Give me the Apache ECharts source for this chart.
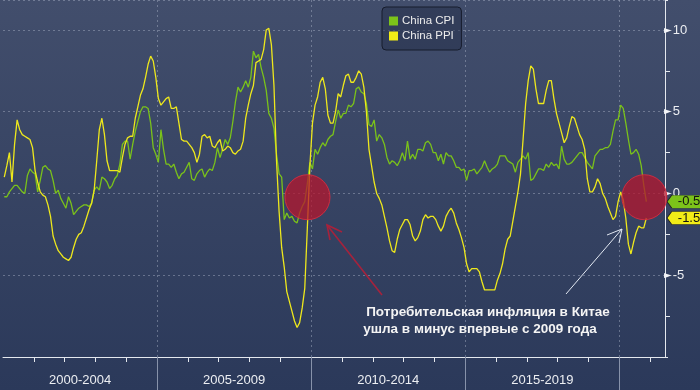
<!DOCTYPE html>
<html><head><meta charset="utf-8">
<script src="https://cdn.jsdelivr.net/npm/echarts@6/dist/echarts.min.js"></script>
<style>html,body{margin:0;padding:0;background:#2f3c5c}#c{width:700px;height:390px}</style>
</head><body><div id="c"></div>
<script>
// ---- data (monthly, Jan 2000 .. Nov 2020, % y/y) ----
const startYear = 2000;
const cpiValues = [
-0.2,-0.2,0.1,0.3,0.5,0.5,0.3,0.1,0.0,1.1,1.5,1.3,
1.2,0.1,0.8,1.6,1.7,1.5,1.4,0.8,0.0,0.2,-0.3,-0.6,
-0.9,-0.2,-0.6,-1.3,-1.1,-0.9,-0.8,-0.7,-0.7,-0.8,-0.6,0.2,
0.4,0.2,1.0,0.9,0.7,0.3,0.5,0.9,1.1,1.8,3.0,3.2,
3.2,2.1,3.0,3.8,4.4,5.0,5.3,5.3,5.2,4.3,2.8,2.4,
1.9,3.9,2.7,1.8,1.8,1.6,1.8,1.3,0.9,1.2,1.3,1.6,
1.9,0.9,0.8,1.2,1.4,1.5,1.0,1.3,1.5,1.4,1.9,2.8,
2.2,2.7,3.3,3.0,3.4,4.4,5.6,6.5,6.2,6.5,6.9,6.5,
7.1,8.7,8.3,8.5,7.7,7.1,6.3,4.9,4.6,4.0,2.4,1.2,
1.0,-1.6,-1.2,-1.5,-1.4,-1.7,-1.8,-1.2,-0.8,-0.5,0.6,1.9,
1.5,2.7,2.4,2.8,3.1,2.9,3.3,3.5,3.6,4.4,5.1,4.6,
4.9,4.9,5.4,5.3,5.5,6.4,6.5,6.2,6.1,5.5,4.2,4.1,
4.5,3.2,3.6,3.4,3.0,2.2,1.8,2.0,1.9,1.7,2.0,2.5,
2.0,3.2,2.1,2.4,2.1,2.7,2.7,2.6,3.1,3.2,3.0,2.5,
2.5,2.0,2.4,1.8,2.5,2.3,2.3,2.0,1.6,1.6,1.4,1.5,
0.8,1.4,1.4,1.5,1.2,1.4,1.6,2.0,1.6,1.3,1.5,1.6,
1.8,2.3,2.3,2.3,2.0,1.9,1.8,1.3,1.9,2.1,2.3,2.1,
2.5,0.8,0.9,1.2,1.5,1.5,1.4,1.8,1.6,1.9,1.7,1.8,
1.5,2.9,2.1,1.8,1.8,1.9,2.1,2.3,2.5,2.5,2.2,1.9,
1.7,1.5,2.3,2.5,2.7,2.7,2.8,2.8,3.0,3.8,4.5,4.5,
5.4,5.2,4.3,3.3,2.4,2.5,2.7,2.4,1.7,0.5,-0.5];
const ppiValues = [
1.0,1.7,2.5,0.7,3.0,4.5,3.9,3.6,3.5,3.4,3.3,2.8,
1.4,0.7,0.1,-0.1,-0.2,-0.7,-1.4,-2.6,-3.1,-3.5,-3.7,-3.9,
-4.0,-4.1,-3.9,-3.3,-2.8,-2.5,-2.4,-2.0,-1.5,-1.0,-0.6,0.2,
2.0,3.9,4.6,3.6,2.0,1.4,1.4,1.4,1.4,1.3,2.2,3.0,
3.4,3.5,3.5,4.6,5.3,6.0,6.4,7.1,7.9,8.4,8.1,7.1,
5.8,5.4,5.6,5.8,5.9,5.2,5.2,5.3,4.3,3.3,3.2,3.2,
3.0,2.8,2.5,1.9,2.4,3.5,3.6,3.4,3.5,2.9,2.8,3.1,
3.3,2.6,2.7,2.9,2.8,2.5,2.4,2.6,2.7,3.2,4.6,5.4,
6.1,6.6,8.0,8.1,8.2,8.8,10.0,10.1,9.1,6.6,2.0,-1.1,
-3.3,-4.5,-6.0,-6.6,-7.2,-7.8,-8.2,-7.9,-7.0,-5.8,-2.1,1.7,
4.3,5.4,5.9,6.8,7.1,6.4,4.8,4.3,4.3,5.0,6.1,5.9,
6.6,7.2,7.3,6.8,6.8,7.1,7.5,7.3,6.5,5.0,2.7,1.7,
0.7,0.0,-0.3,-0.7,-1.4,-2.1,-2.9,-3.5,-3.6,-2.8,-2.2,-1.9,
-1.6,-1.6,-1.9,-2.6,-2.9,-2.7,-2.3,-1.6,-1.3,-1.5,-1.4,-1.4,
-1.6,-2.0,-2.3,-2.0,-1.4,-1.1,-0.9,-1.2,-1.8,-2.2,-2.7,-3.3,
-4.3,-4.8,-4.6,-4.6,-4.6,-4.8,-5.4,-5.9,-5.9,-5.9,-5.9,-5.9,
-5.3,-4.9,-4.3,-3.4,-2.8,-2.6,-1.7,-0.8,0.1,1.2,3.3,5.5,
6.9,7.8,7.6,6.4,5.5,5.5,5.5,6.3,6.9,6.9,5.8,4.9,
4.3,3.7,3.1,3.4,4.1,4.7,4.6,4.1,3.6,3.3,2.7,0.9,
0.1,0.1,0.4,0.9,0.6,0.0,-0.3,-0.8,-1.2,-1.6,-1.4,-0.5,
0.1,-0.4,-1.5,-3.1,-3.7,-3.0,-2.4,-2.0,-2.1,-2.1,-1.5];
const bandStarts = [2000, 2005, 2010, 2015];
const bandLabels = ['2000-2004', '2005-2009', '2010-2014', '2015-2019'];
const separatorYears = [2005, 2010, 2015, 2020];
const yearTicks = [2001,2002,2003,2004,2006,2007,2008,2009,2011,2012,2013,2014,2016,2017,2018,2019,2021];
const circleX = [2009.88, 2020.81];
const circleY = [-0.23, -0.23];
const seriesNames = ['China CPI', 'China PPI'];
const noteLines = ['Потребительская инфляция в Китае', 'ушла в минус впервые с 2009 года'];

// ---- build ----
const X_MIN = 2000, X_MAX = 2021.48, Y_MIN = -10, Y_MAX = 11.83;
const GREEN = '#7cc31a', YELLOW = '#f2ec17';
const toPts = arr => arr.map((v, i) => [startYear + (i + 0.5) / 12, v]);
const tagPath = 'path://M0,6 L5,0 L40,0 L40,12 L5,12 Z';
const FONT = '"Liberation Sans", Arial, sans-serif';

function tag(arr, color) {
  const last = arr[arr.length - 1];
  return {
    symbol: tagPath, symbolSize: [38, 13], symbolOffset: [21, 0], silent: true,
    itemStyle: { color: color, borderColor: '#222', borderWidth: 0.6 },
    label: { show: true, position: 'inside', offset: [3, 0], color: '#111', fontSize: 13, fontFamily: FONT,
      formatter: p => p.value.toFixed(1) },
    data: [{ coord: [X_MAX, last], value: last }]
  };
}

const chart = echarts.init(document.getElementById('c'), null, { renderer: 'canvas' });
const axisColor = '#e4e8ee';
const dash = { show: true, lineStyle: { color: 'rgba(170,180,200,0.45)', type: [2, 3], width: 1 } };

chart.setOption({
  animation: false,
  backgroundColor: { type: 'linear', x: 0, y: 0, x2: 0, y2: 1,
    colorStops: [{ offset: 0, color: '#424e6c' }, { offset: 1, color: '#2b395a' }] },
  grid: { left: -5.3, right: 35, top: -1, bottom: 33 },
  legend: {
    data: seriesNames, orient: 'vertical', left: 382, top: 7, icon: 'rect',
    itemWidth: 9, itemHeight: 9, itemGap: 3, padding: [8, 7, 8, 7],
    borderColor: '#161c2c', borderWidth: 1, borderRadius: 4, backgroundColor: 'rgba(36,46,72,0.5)',
    textStyle: { color: '#ececec', fontSize: 11.5, fontFamily: FONT, padding: [0, 0, 0, -1] },
    selectedMode: false
  },
  xAxis: [
    { type: 'value', min: X_MIN, max: X_MAX, interval: 1, position: 'bottom',
      axisLine: { show: true, onZero: false, lineStyle: { color: axisColor, width: 1 } },
      axisTick: { show: true, length: 5, lineStyle: { color: axisColor }, customValues: yearTicks },
      axisLabel: { show: false }, splitLine: { show: false } },
    { type: 'value', min: X_MIN, max: X_MAX, interval: 5, position: 'bottom',
      axisLine: { show: false, onZero: false },
      axisTick: { show: true, length: 34, lineStyle: { color: '#8792aa', width: 1 }, customValues: separatorYears },
      axisLabel: { show: false }, splitLine: dash },
    { type: 'value', min: X_MIN, max: X_MAX, interval: 0.5, position: 'bottom',
      axisLine: { show: false, onZero: false }, axisTick: { show: false }, splitLine: { show: false },
      axisLabel: { show: true, margin: 17, color: '#eceef2', fontSize: 13, fontFamily: FONT,
        showMinLabel: true, showMaxLabel: true,
        formatter: v => { const i = bandStarts.findIndex(s => Math.abs(s + 2.5 - v) < 1e-6); return i >= 0 ? bandLabels[i] : ''; } } }
  ],
  yAxis: {
    type: 'value', position: 'right', min: Y_MIN, max: Y_MAX, interval: 5,
    axisLine: { show: true, lineStyle: { color: axisColor, width: 1 } },
    axisTick: { show: true, length: 3, lineStyle: { color: axisColor } },
    minorTick: { show: true, splitNumber: 2, length: 5, lineStyle: { color: axisColor } },
    minorSplitLine: { show: false },
    splitLine: dash,
    axisLabel: { show: true, margin: -1, showMinLabel: false, showMaxLabel: false,
      formatter: v => '{t|►}{v|' + v + '}',
      rich: { t: { fontSize: 10, color: '#f4f5f8', fontFamily: '"DejaVu Sans"' },
              v: { fontSize: 13, color: '#eceef2', fontFamily: FONT, padding: [0, 0, 0, 1] } } }
  },
  series: [
    { name: seriesNames[0], type: 'line', data: toPts(cpiValues), showSymbol: false, color: GREEN,
      lineStyle: { color: '#7ac21a', width: 1.3 }, z: 3, markPoint: tag(cpiValues, GREEN) },
    { name: seriesNames[1], type: 'line', data: toPts(ppiValues), showSymbol: false, color: YELLOW,
      lineStyle: { color: '#eee81c', width: 1.3 }, z: 3, markPoint: tag(ppiValues, YELLOW) },
    { name: 'circles', type: 'scatter', data: circleX.map((x, i) => [x, circleY[i]]), symbolSize: 45, z: 5, silent: true,
      itemStyle: { color: 'rgba(182,22,44,0.74)', borderColor: 'rgba(214,44,64,0.9)', borderWidth: 1, opacity: 1 } }
  ],
  graphic: [
    { type: 'line', z: 50, shape: { x1: 382, y1: 295, x2: 327, y2: 225 }, style: { stroke: '#a6223c', lineWidth: 1.6 } },
    { type: 'polyline', z: 50, shape: { points: [[342, 232], [327, 225], [330, 240]] }, style: { stroke: '#a6223c', lineWidth: 1.6, fill: null } },
    { type: 'line', z: 50, shape: { x1: 566, y1: 294, x2: 622, y2: 229 }, style: { stroke: '#e2e8f2', lineWidth: 1 } },
    { type: 'polyline', z: 50, shape: { points: [[607, 235], [622, 229], [619, 243]] }, style: { stroke: '#e2e8f2', lineWidth: 1, fill: null } },
    { type: 'text', z: 50, x: 488, y: 312, style: { text: noteLines[0], fill: '#f4f4f4', font: 'bold 13.5px ' + FONT, textAlign: 'center', textVerticalAlign: 'middle', align: 'center', verticalAlign: 'middle' } },
    { type: 'text', z: 50, x: 480, y: 329, style: { text: noteLines[1], fill: '#f4f4f4', font: 'bold 13.5px ' + FONT, textAlign: 'center', textVerticalAlign: 'middle', align: 'center', verticalAlign: 'middle' } }
  ]
});
</script></body></html>
